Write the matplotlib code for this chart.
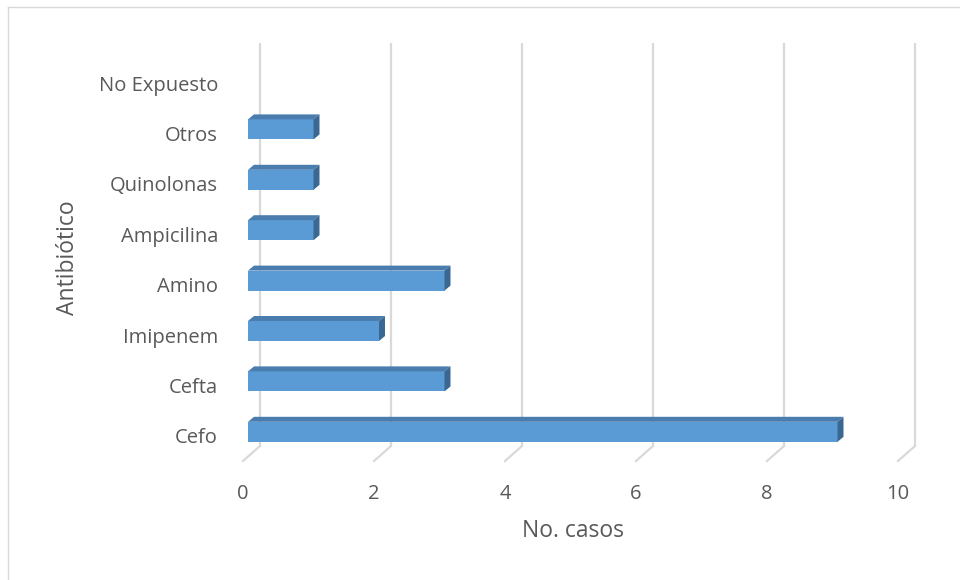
import matplotlib.pyplot as plt
from matplotlib.patches import Polygon

# Casos por antibiótico (de abajo hacia arriba)
categorias = ["Cefo", "Cefta", "Imipenem", "Amino", "Ampicilina",
              "Quinolonas", "Otros", "No Expuesto"]
casos = [9, 3, 2, 3, 1, 1, 1, 0]
ticks_x = [0, 2, 4, 6, 8, 10]

plt.rcParams["font.family"] = ["Open Sans", "DejaVu Sans"]
GRIS_TEXTO = "#595959"
GRIS_REJILLA = "#D9D9D9"
AZUL = "#5B9BD5"
AZUL_TOP = "#4A7DAE"
AZUL_LADO = "#3A6892"

fig = plt.figure(figsize=(9.6, 5.8), dpi=100)
ax = fig.add_axes([0, 0, 1, 1])

# escala: 65.5 px por unidad en x, 50.4 px por categoría en y
px_x, px_y = 65.5, 50.4
ax.set_xlim(-260 / px_x, (960 - 260) / px_x)
y0 = 446  # pixel del fondo del plano trasero
ax.set_ylim((y0 - 580) / px_y - 0.5, y0 / px_y - 0.5)
ax.axis("off")

# desplazamientos de perspectiva (plano frontal y cara de la barra)
fx, fy = -17 / px_x, -15 / px_y
bx, by = -12 / px_x, -11 / px_y
dx, dy = 6 / px_x, 5 / px_y
alto = 20 / px_y

# rejilla del plano trasero y su pie en diagonal
for t in ticks_x:
    ax.plot([t, t], [-0.5, len(categorias) - 0.5], color=GRIS_REJILLA, lw=1.6,
            solid_capstyle="butt", zorder=1)
    ax.plot([t, t + fx], [-0.5, -0.5 + fy], color=GRIS_REJILLA, lw=1.6, zorder=1)
    ax.text(t + fx, -0.5 + fy - 33 / px_y, str(t), ha="center", va="center",
            fontsize=14.5, color=GRIS_TEXTO)

# barras 3D: cara frontal, superior y lateral
for i, v in enumerate(casos):
    yc = i + by
    if v > 0:
        ax.barh(yc, v, left=bx, height=alto, color=AZUL, zorder=3)
        top = [(bx, yc + alto / 2), (bx + dx, yc + alto / 2 + dy),
               (bx + v + dx, yc + alto / 2 + dy), (bx + v, yc + alto / 2)]
        lado = [(bx + v, yc - alto / 2), (bx + v, yc + alto / 2),
                (bx + v + dx, yc + alto / 2 + dy), (bx + v + dx, yc - alto / 2 + dy)]
        ax.add_patch(Polygon(top, closed=True, color=AZUL_TOP, lw=0, zorder=3))
        ax.add_patch(Polygon(lado, closed=True, color=AZUL_LADO, lw=0, zorder=3))
    ax.text(218 / px_x - 260 / px_x, i + fy - 2.5 / px_y, categorias[i],
            ha="right", va="center", fontsize=14.5, color=GRIS_TEXTO)

fig.text(573 / 960, 1 - 531 / 580, "No. casos", ha="center", va="center",
         fontsize=16.5, color=GRIS_TEXTO)
fig.text(68 / 960, 1 - 258 / 580, "Antibiótico", ha="center", va="center",
         rotation=90, fontsize=16.5, color=GRIS_TEXTO)

# marco del gráfico
fig.add_artist(plt.Line2D([8 / 960, 8 / 960], [0, 1 - 7 / 580],
                          transform=fig.transFigure, color=GRIS_REJILLA, lw=1))
fig.add_artist(plt.Line2D([8 / 960, 1], [1 - 7 / 580, 1 - 7 / 580],
                          transform=fig.transFigure, color=GRIS_REJILLA, lw=1))

fig.savefig("out.png", dpi=100)
